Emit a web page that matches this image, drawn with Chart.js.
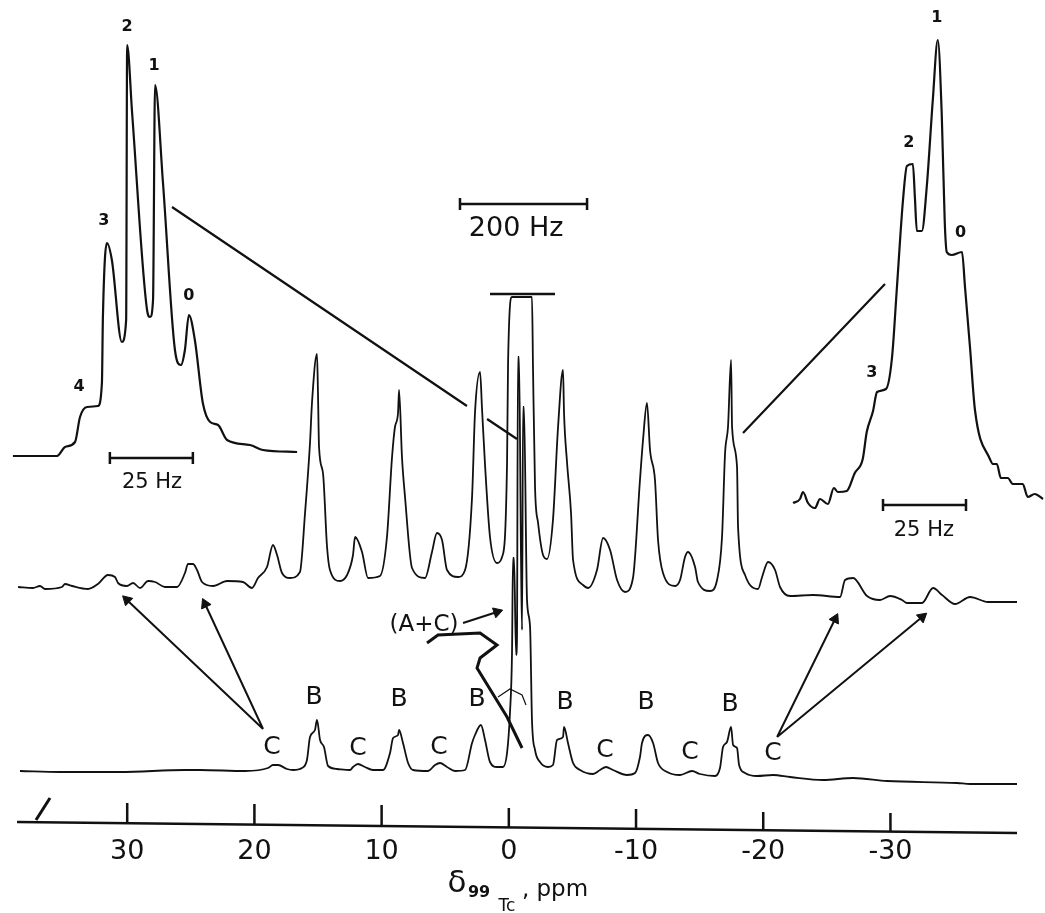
<!DOCTYPE html>
<html>
<head>
	<title>99Tc NMR spectrum</title>
	<script src="https://cdn.jsdelivr.net/npm/chart.js@4/dist/chart.umd.min.js"></script>
	<style>
		html, body { margin: 0; padding: 0; background: #fff; }
		canvas { display: block; }
	</style>
</head>
<body>
	<canvas id="chart" width="1045" height="913"></canvas>
	<script>
		// axis
		var tickValues = [30, 20, 10, 0, -10, -20, -30];
		var tickBase = [7, 6, 4, 3, 1, -1, -2];
		var tickTop = [27, 26, 25, 22, 21, 18, 17];
		var baselinePpm = [38.66, -39.95];
		var baselineHeight = [8, -3];
		var slashPpm = [37.17, 36.07];
		var slashHeight = [10, 32];

		// lower trace
		var lowerPpm = [
			38.43, 35.28, 30.57, 25.46, 24.28, 20.74, 18.93, 18.54, 18.14, 17.44,
			16.97, 16.26, 15.87, 15.63, 15.24, 15.08, 14.84, 14.53, 14.21, 13.51,
			12.48, 12.25, 11.86, 11.31, 10.68, 9.89, 9.34, 9.10, 8.71, 8.63,
			8.32, 7.92, 7.53, 6.35, 5.80, 5.41, 4.86, 4.23, 3.44, 2.89,
			2.66, 2.19, 1.87, 1.48, 0.93, 0.46, 0.14, -0.09, -0.25, -0.33,
			-0.41, -0.57, -0.64, -0.72, -0.80, -0.96, -1.04, -1.12, -1.19, -1.43,
			-1.67, -1.82, -2.06, -2.45, -3.08, -3.47, -3.79, -4.26, -4.34, -4.65,
			-5.05, -5.60, -6.62, -7.17, -7.64, -8.19, -9.29, -9.92, -10.31, -10.47,
			-10.94, -11.34, -11.73, -12.44, -13.46, -14.40, -15.03, -16.21, -16.60, -16.84,
			-17.15, -17.47, -17.63, -17.94, -18.10, -18.57, -19.51, -20.77, -22.11, -24.70,
			-27.06, -29.73, -35.24, -36.26, -39.95
		];
		var lowerHeight = [
			59, 58, 58, 60, 60, 59, 62, 65, 65, 61,
			60, 62, 70, 93, 100, 110, 90, 83, 64, 61,
			60, 63, 66, 63, 60, 60, 77, 92, 95, 100,
			87, 67, 60, 59, 65, 67, 63, 59, 60, 87,
			95, 105, 90, 68, 63, 63, 77, 117, 177, 272,
			272, 175, 190, 473, 473, 270, 200, 423, 423, 230,
			203, 110, 80, 68, 63, 65, 90, 93, 103, 87,
			67, 60, 56, 60, 63, 60, 55, 57, 73, 87,
			95, 87, 67, 58, 55, 59, 56, 54, 62, 83,
			88, 103, 85, 82, 65, 57, 54, 55, 53, 50,
			52, 49, 47, 46, 46
		];

		// upper trace
		var upperPpm = [
			38.58, 37.41, 36.86, 36.46, 35.13, 34.89, 34.34, 33.08, 32.30, 31.51,
			30.96, 30.72, 30.02, 29.54, 28.99, 28.36, 27.81, 27.03, 26.08, 25.46,
			25.22, 24.83, 24.51, 24.12, 23.25, 22.15, 20.90, 20.19, 19.72, 19.01,
			18.54, 18.22, 17.83, 17.20, 16.42, 16.02, 15.63, 15.47, 15.08, 15.00,
			14.92, 14.61, 14.29, 14.06, 13.27, 12.72, 12.25, 12.09, 11.54, 11.07,
			10.13, 9.58, 9.18, 8.95, 8.71, 8.63, 8.40, 8.16, 7.61, 6.59,
			6.04, 5.65, 5.25, 4.86, 3.99, 3.44, 2.89, 2.66, 2.26, 2.11,
			1.87, 1.48, 0.93, 0.53, 0.14, 0.06, -0.25, -1.82, -1.90, -2.06,
			-2.30, -2.69, -3.00, -3.47, -3.87, -4.26, -4.34, -4.58, -4.89, -5.05,
			-5.83, -6.23, -6.93, -7.41, -7.96, -8.51, -9.14, -9.76, -10.31, -10.55,
			-10.86, -11.10, -11.49, -11.73, -12.12, -13.07, -13.46, -13.85, -14.09, -14.64,
			-14.87, -15.82, -16.37, -16.76, -17.00, -17.23, -17.47, -17.55, -17.94, -18.02,
			-18.57, -18.96, -19.59, -19.91, -20.38, -20.93, -21.32, -22.11, -23.92, -26.04,
			-26.43, -27.06, -28.16, -29.18, -29.97, -30.91, -31.30, -32.48, -33.35, -34.06,
			-35.08, -36.26, -37.67, -39.95
		];
		var upperHeight = [
			243, 242, 244, 241, 243, 246, 244, 241, 246, 255,
			253, 247, 244, 247, 242, 249, 248, 243, 243, 257,
			266, 266, 260, 248, 244, 249, 248, 242, 252, 263,
			285, 275, 257, 252, 258, 317, 387, 428, 476, 435,
			383, 357, 283, 260, 249, 255, 275, 293, 278, 252,
			254, 293, 373, 403, 417, 440, 373, 333, 262, 252,
			278, 297, 290, 260, 253, 260, 333, 417, 458, 422,
			365, 293, 267, 273, 367, 467, 533, 533, 463, 343,
			307, 275, 271, 310, 403, 460, 417, 367, 317, 270,
			245, 242, 260, 292, 280, 250, 238, 252, 350, 390,
			427, 380, 350, 290, 257, 244, 250, 273, 278, 263,
			248, 239, 250, 293, 377, 403, 470, 403, 363, 303,
			255, 245, 241, 253, 268, 260, 243, 234, 235, 233,
			250, 252, 234, 230, 234, 230, 227, 227, 242, 235,
			226, 233, 228, 228
		];

		// expanded multiplets, x in Hz
		var leftInsetHz = [
			3.9, 17.2, 19.6, 22.6, 24.1, 26.2, 29.5, 30.7, 31.0, 32.2,
			33.7, 36.7, 38.0, 38.3, 39.8, 44.3, 45.2, 46.1, 46.7, 49.1,
			52.7, 54.5, 55.7, 56.9, 58.7, 61.1, 63.3, 65.7, 68.4, 75.3,
			79.2, 89.5
		];
		var leftInsetHeight = [
			374, 374, 383, 388, 413, 423, 424, 447, 513, 587,
			570, 488, 510, 785, 717, 520, 513, 530, 745, 647,
			480, 465, 480, 515, 490, 427, 408, 405, 390, 385,
			380, 378
		];
		var rightInsetHz = [
			238.9, 241.0, 241.9, 243.4, 245.5, 247.0, 249.4, 251.2, 252.4, 255.1,
			257.5, 259.9, 261.1, 263.0, 264.2, 266.9, 268.7, 270.2, 272.0, 273.2,
			275.0, 275.6, 276.2, 277.7, 279.2, 281.0, 282.5, 283.7, 284.6, 285.2,
			286.7, 289.8, 290.7, 292.2, 293.7, 298.2, 299.1, 300.3, 301.5, 303.6,
			305.1, 308.1, 309.6, 311.7, 314.2
		];
		var rightInsetHeight = [
			327, 331, 338, 327, 322, 331, 326, 342, 338, 339,
			357, 371, 398, 419, 438, 441, 472, 543, 629, 664,
			666, 633, 599, 599, 644, 730, 790, 715, 608, 578,
			575, 578, 543, 483, 420, 371, 366, 366, 352, 352,
			346, 346, 333, 336, 331
		];

		// scale bars: from, to, height
		var bar200Ppm = [3.84, -6.15, 626];
		var bar25LeftHz = [33.1, 58.1, 372];
		var bar25RightHz = [266.0, 291.0, 325];
		var capPpm = [1.48, -3.63];
		var capHeight = [536, 536];

		// leader lines and arrows
		var leaderPpm = [26.48, 3.29, null, 1.71, -0.64, null, -18.41, -29.57];
		var leaderHeight = [623, 424, null, 411, 391, null, 397, 546];
		var arrowPpm = [19.32, 30.02, null, 19.32, 23.88, null, -21.09, -25.65, null, -21.09, -32.49, null, 3.60, 0.93];
		var arrowHeight = [101, 230, null, 101, 226, null, 93, 211, null, 93, 213, null, 207, 218];
		var arrowTipPpm = [30.02, 23.88, -25.65, -32.49, 0.93];
		var arrowTipHeight = [230, 226, 211, 213, 218];
		var arrowTipAngle = [-46, -25, 26, 50, 72];

		// pen marks over the central peak
		var penPpm = [6.43, 5.57, 2.26, 0.93, 2.26, 2.50, 0.14, -1.04];
		var penHeight = [187, 195, 197, 185, 172, 162, 113, 82];
		var arcPpm = [0.85, -0.09, -1.04, -1.35];
		var arcHeight = [133, 141, 135, 125];

		// text
		var bLabels = ["B", "B", "B", "B", "B", "B"];
		var bPpm = [15.31, 8.63, 2.50, -4.42, -10.79, -17.39];
		var bHeight = [133, 131, 131, 128, 128, 126];
		var cLabels = ["C", "C", "C", "C", "C", "C"];
		var cPpm = [18.62, 11.86, 5.49, -7.56, -14.25, -20.77];
		var cHeight = [83, 82, 83, 80, 78, 77];
		var leftPeakLabels = ["2", "1", "3", "0", "4"];
		var leftPeakHz = [38.3, 46.4, 31.3, 56.9, 23.8];
		var leftPeakHeight = [803, 764, 609, 534, 443];
		var rightPeakLabels = ["1", "2", "0", "3"];
		var rightPeakHz = [282.2, 273.8, 289.4, 262.6];
		var rightPeakHeight = [812, 687, 597, 457];

		function pts(xs, ys) {
			return xs.map(function (x, i) { return { x: x === null ? 0 : x, y: ys[i] }; });
		}
		function capBar(b) {
			var cap = 6;
			return [
				{ x: b[0], y: b[2] - cap }, { x: b[0], y: b[2] + cap }, { x: b[0], y: null },
				{ x: b[0], y: b[2] }, { x: b[1], y: b[2] }, { x: b[1], y: null },
				{ x: b[1], y: b[2] - cap }, { x: b[1], y: b[2] + cap }
			];
		}
		function tickSegments() {
			var out = [];
			tickValues.forEach(function (v, i) {
				out.push({ x: v, y: tickBase[i] }, { x: v, y: tickTop[i] }, { x: v, y: null });
			});
			return out;
		}
		function line(label, data, width, axis) {
			return {
				label: label, data: data, xAxisID: axis || "x", showLine: true,
				borderColor: "#111", borderWidth: width, pointRadius: 0,
				tension: 0, clip: false, spanGaps: false
			};
		}
		function trace(label, data, width, axis) {
			var d = line(label, data, width, axis);
			d.cubicInterpolationMode = "monotone";
			return d;
		}

		var FONT = "'DejaVu Sans', sans-serif";
		var textLabels = {
			id: "textLabels",
			afterDatasetsDraw: function (chart) {
				var c = chart.ctx, sx = chart.scales.x, hz = chart.scales.hz, sy = chart.scales.y;
				function put(s, xpx, h, font) {
					c.font = font;
					c.fillText(s, xpx, sy.getPixelForValue(h));
				}
				c.save();
				c.fillStyle = "#111";
				c.textAlign = "center";
				c.textBaseline = "middle";
				bLabels.forEach(function (s, i) { put(s, sx.getPixelForValue(bPpm[i]), bHeight[i], "25px " + FONT); });
				cLabels.forEach(function (s, i) { put(s, sx.getPixelForValue(cPpm[i]), cHeight[i], "25px " + FONT); });
				leftPeakLabels.forEach(function (s, i) { put(s, hz.getPixelForValue(leftPeakHz[i]), leftPeakHeight[i], "bold 16px " + FONT); });
				rightPeakLabels.forEach(function (s, i) { put(s, hz.getPixelForValue(rightPeakHz[i]), rightPeakHeight[i], "bold 16px " + FONT); });
				put("25 Hz", hz.getPixelForValue(45.8), 347, "21px " + FONT);
				put("25 Hz", hz.getPixelForValue(278.3), 299, "21px " + FONT);
				put("200 Hz", sx.getPixelForValue(-0.57), 601, "27px " + FONT);
				put("(A+C)", sx.getPixelForValue(6.67), 205, "23px " + FONT);
				// axis title, the subscripts do not fit a native title
				put("\u03b4", sx.getPixelForValue(4.07), -54, "31px " + FONT);
				put("99", sx.getPixelForValue(2.34), -63, "bold 16px " + FONT);
				put("Tc", sx.getPixelForValue(0.14), -77, "17px " + FONT);
				put(", ppm", sx.getPixelForValue(-3.63), -60, "23px " + FONT);
				c.restore();
			}
		};

		var canvas = document.getElementById("chart").getContext("2d");
		window.spectrum = new Chart(canvas, {
			type: "scatter",
			data: {
				datasets: [
					line("baseline", pts(baselinePpm, baselineHeight), 2.5),
					line("ticks", tickSegments(), 2.5),
					line("slash", pts(slashPpm, slashHeight), 3),
					trace("lower", pts(lowerPpm, lowerHeight), 1.8),
					trace("upper", pts(upperPpm, upperHeight), 1.8),
					trace("left inset", pts(leftInsetHz, leftInsetHeight), 2.2, "hz"),
					trace("right inset", pts(rightInsetHz, rightInsetHeight), 2.2, "hz"),
					line("200 Hz", capBar(bar200Ppm), 2.5),
					line("25 Hz left", capBar(bar25LeftHz), 2.5, "hz"),
					line("25 Hz right", capBar(bar25RightHz), 2.5, "hz"),
					line("cap", pts(capPpm, capHeight), 2.5),
					line("leaders", pts(leaderPpm, leaderHeight), 2.2),
					line("arrows", pts(arrowPpm, arrowHeight), 2),
					{
						label: "arrow tips", data: pts(arrowTipPpm, arrowTipHeight), xAxisID: "x",
						pointStyle: "triangle", pointRadius: 6, pointRotation: arrowTipAngle,
						backgroundColor: "#111", borderColor: "#111", clip: false
					},
					line("pen", pts(penPpm, penHeight), 3),
					line("arc", pts(arcPpm, arcHeight), 1.2)
				]
			},
			options: {
				responsive: false,
				animation: false,
				layout: { padding: 0, autoPadding: false },
				plugins: { legend: { display: false }, tooltip: { enabled: false } },
				scales: {
					x: {
						type: "linear",
						reverse: true,
						min: -42.15,
						max: 40,
						grid: { display: false, drawTicks: false },
						border: { display: false },
						afterBuildTicks: function (axis) {
							axis.ticks = tickValues.map(function (v) { return { value: v }; });
						},
						afterFit: function (axis) { axis.height = 83; },
						ticks: {
							autoSkip: false,
							maxRotation: 0,
							padding: 6,
							color: "#111",
							font: { family: "DejaVu Sans", size: 27 }
						}
					},
					hz: { type: "linear", display: false, min: 0, max: 314.8 },
					y: { type: "linear", display: false, min: 0, max: 830 }
				}
			},
			plugins: [textLabels]
		});
	</script>
</body>
</html>
